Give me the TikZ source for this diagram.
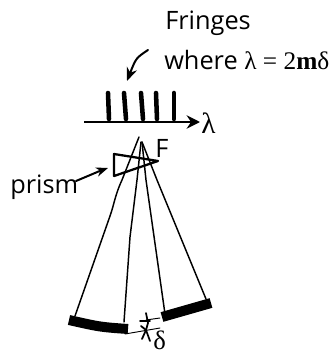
\documentclass[tikz,border=0pt]{standalone}
\usepackage{xcolor}
\usepackage{fontspec}
\setmainfont{Open Sans}
\newfontfamily\symbfont{Liberation Serif}
\usetikzlibrary{
	arrows.meta
}

\begin{document}
\begin{tikzpicture}[
	x=0.75pt,y=-0.75pt,
	c_ink/.style={
		color=black,
		line width=1.1pt,
		line cap=round,
		line join=round
	},
	c_fringe/.style={
		c_ink,
		line width=3.4pt
	},
	c_mirror/.style={
		c_ink,
		line cap=butt,
		line width=7.5pt
	},
	c_text/.style={
		black,
		font=\fontsize{19}{21}\selectfont,
		inner sep=0pt
	}
	]
	
	\useasboundingbox (0,0) rectangle (333,354);
	
	% Labels
	\node[c_text,anchor=west] (fringes) at (165,23) {Fringes};
	\node[c_text,anchor=west] (where) at (164,60)
	{where {\symbfont λ = 2\textbf{m}δ}};
	\node[c_text,anchor=west] (prism) at (10,187) {prism};
	\node[c_text,anchor=west] (focus) at (155,148) {F};
	\node[c_text,anchor=west] (lambda) at (201,123) {\symbfont\fontsize{22}{24}\selectfont λ};
	\node[c_text,anchor=west] (delta) at (153,340) {\symbfont\fontsize{20}{22}\selectfont δ};
	
	% Pointers
	\coordinate (fringes_from) at (148,50);
	\coordinate (fringes_to) at (127,81);
	\draw[c_ink,line width=1.5pt,-{Stealth[length=10pt,width=8pt]}]
	(fringes_from) .. controls (136,58) .. (fringes_to);
	
	\coordinate (prism_from) at (76,181);
	\coordinate (prism_to) at (108,168);
	\draw[c_ink,line width=1.5pt,-{Stealth[length=9pt,width=7pt]}]
	(prism_from) .. controls (88,175) .. (prism_to);
	
	% Axis
	\coordinate (axis_from) at (84,122);
	\coordinate (axis_to) at (200,122);
	\draw[black,line width=1.6pt,-{Stealth[length=10pt,width=10pt]}]
	(axis_from)--(axis_to);
	
	% Fringes
	\foreach \x/\s in {108/109,124/126,141/143,156/157,174/174}
	{
		\draw[c_fringe] (\x,93)--(\s,119);
	}
	
	% Prism
	\draw[c_ink,line width=1.7pt]
	(114,154)--(158,161)--(114,176)--cycle;
	
	% Rays
	\draw[c_ink] (139,137)--(122,180)
	.. controls (115,195) and (114,205) .. (110,216)--(75,316);
	\draw[c_ink] (141,142)--(137,180)--(130,237)--(124,322);
	\draw[c_ink] (142,142)--(146,180)--(165,314);
	\draw[c_ink] (142,142)--(157,180)--(206,299);
	
	% Mirrors
	\draw[c_mirror] (69,320)..controls (100,327)..(128,329);
	\draw[c_mirror] (162,317)--(211,303);
	
	% Gap marks
	\coordinate (gap_a) at (160,318);
	\coordinate (gap_b) at (125,334);
	\coordinate (gap_c) at (160,328);
	\draw[c_ink,line width=0.7pt] (gap_a)--(146,320);
	\draw[c_ink,line width=0.7pt] (gap_b)--(gap_c);
	\draw[c_ink,line width=1.3pt] (140,321)--(150,321);
	\draw[c_ink,line width=1.3pt] (146,313)--(148,323)--(146,330);
	\draw[c_ink,line width=1.3pt] (142,339)--(146,330)--(150,341);
	\draw[c_ink,line width=1.3pt] (141,326)--(146,330);
	
\end{tikzpicture}
\end{document}
